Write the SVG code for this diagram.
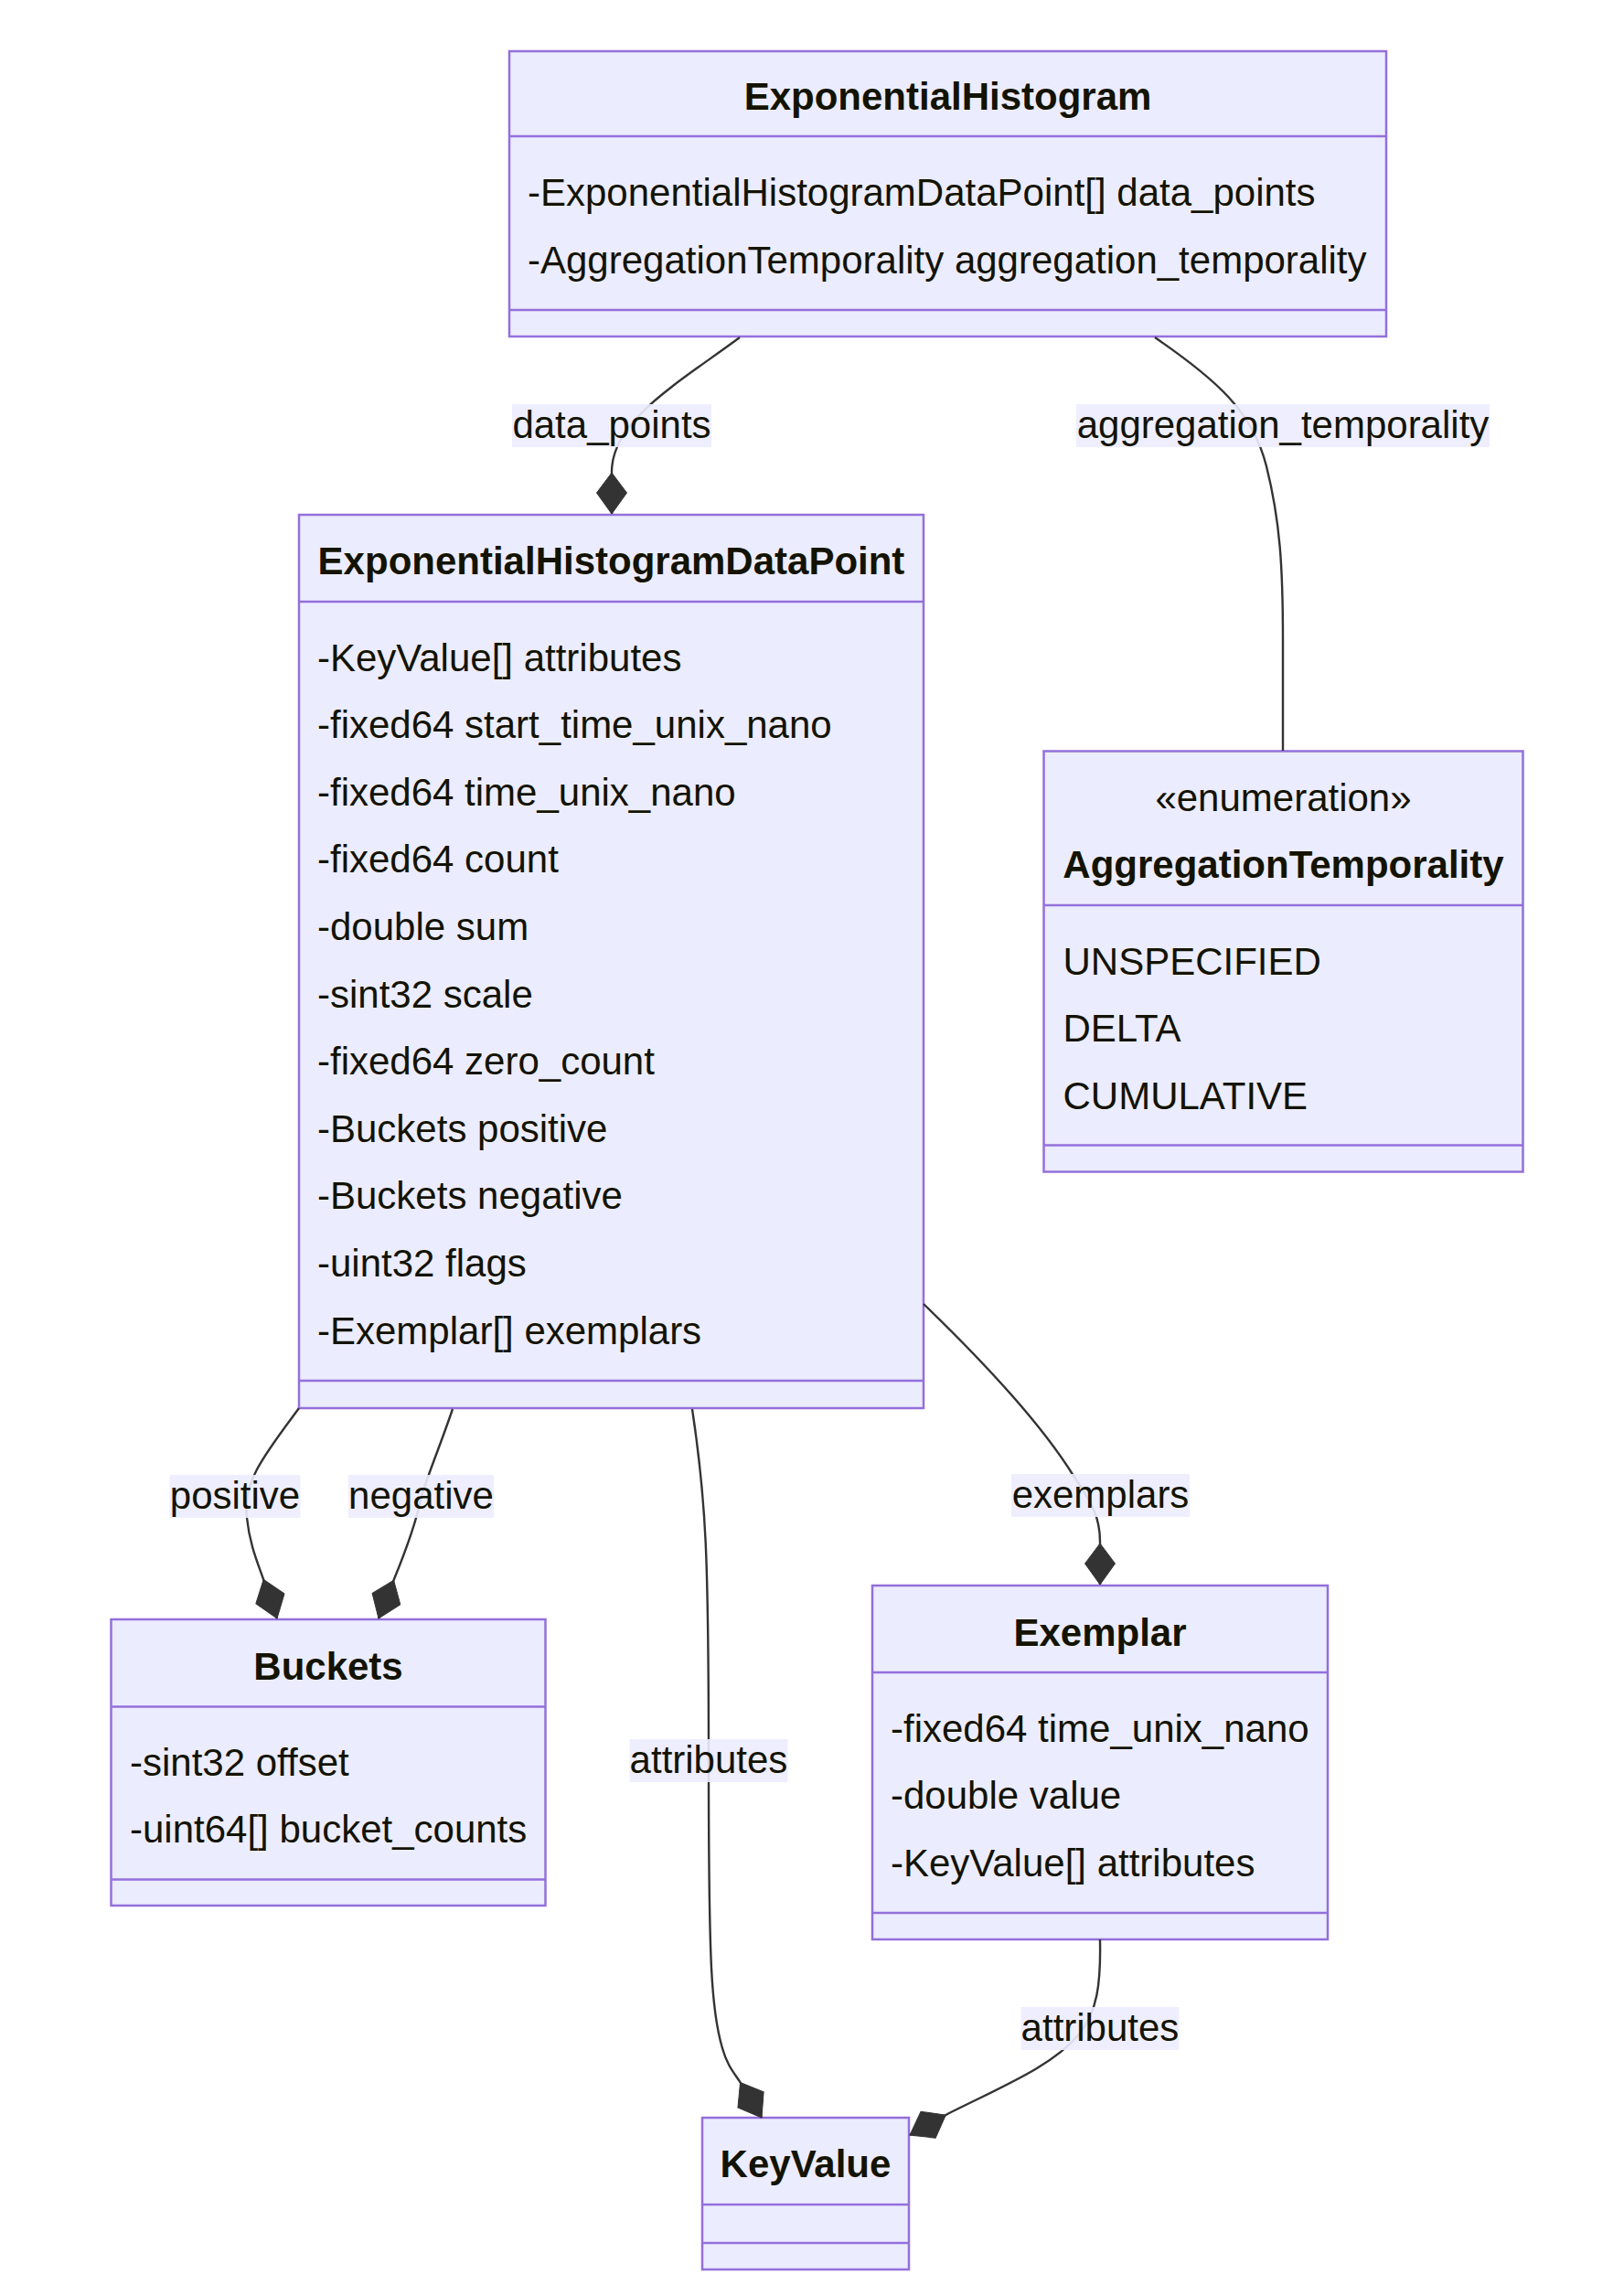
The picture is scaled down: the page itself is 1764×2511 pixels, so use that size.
<svg xmlns="http://www.w3.org/2000/svg" width="1764" height="2511" viewBox="0 0 1764 2511">
<style>
.box{fill:#ECECFF;stroke:#9370DB;stroke-width:2.5}
.div{stroke:#9370DB;stroke-width:2.5;fill:none}
.t{font-family:"Liberation Sans",Arial,sans-serif;font-size:42px;fill:#131300}
.title{font-weight:bold;text-anchor:middle}
.mid{text-anchor:middle}
.edge{fill:none;stroke:#333333;stroke-width:2.4}
.lbg{fill:#ECECFF;opacity:0.9}
</style>
<defs>
<marker id="comp" markerUnits="userSpaceOnUse" markerWidth="48" markerHeight="36" refX="46" refY="17" orient="auto" viewBox="0 0 48 36">
<path d="M1,17 L23,0.5 L46,17 L23,33.5 Z" fill="#333333" stroke="#333333" stroke-width="1"/>
</marker>
</defs>
<rect width="1764" height="2511" fill="#ffffff"/>

<g id="ExponentialHistogram">
<rect class="box" x="557" y="56" width="959" height="312"/>
<line class="div" x1="557" y1="149" x2="1516" y2="149"/>
<line class="div" x1="557" y1="339" x2="1516" y2="339"/>
<text class="t title" x="1036.5" y="120">ExponentialHistogram</text>
<text class="t" x="577" y="225">-ExponentialHistogramDataPoint[] data_points</text>
<text class="t" x="577" y="299">-AggregationTemporality aggregation_temporality</text>
</g>

<g id="ExponentialHistogramDataPoint">
<rect class="box" x="327" y="563" width="683" height="977"/>
<line class="div" x1="327" y1="658" x2="1010" y2="658"/>
<line class="div" x1="327" y1="1510" x2="1010" y2="1510"/>
<text class="t title" x="668.5" y="628">ExponentialHistogramDataPoint</text>
<text class="t" x="347" y="733.5">-KeyValue[] attributes</text>
<text class="t" x="347" y="807.1">-fixed64 start_time_unix_nano</text>
<text class="t" x="347" y="880.7">-fixed64 time_unix_nano</text>
<text class="t" x="347" y="954.3">-fixed64 count</text>
<text class="t" x="347" y="1027.9">-double sum</text>
<text class="t" x="347" y="1101.5">-sint32 scale</text>
<text class="t" x="347" y="1175.1">-fixed64 zero_count</text>
<text class="t" x="347" y="1248.7">-Buckets positive</text>
<text class="t" x="347" y="1322.3">-Buckets negative</text>
<text class="t" x="347" y="1395.9">-uint32 flags</text>
<text class="t" x="347" y="1469.5">-Exemplar[] exemplars</text>
</g>

<g id="AggregationTemporality">
<rect class="box" x="1141.5" y="821.5" width="524" height="460"/>
<line class="div" x1="1141.5" y1="990" x2="1665.5" y2="990"/>
<line class="div" x1="1141.5" y1="1252.5" x2="1665.5" y2="1252.5"/>
<text class="t mid" x="1403.5" y="887">«enumeration»</text>
<text class="t title" x="1403.5" y="959.5">AggregationTemporality</text>
<text class="t" x="1162.5" y="1065.5">UNSPECIFIED</text>
<text class="t" x="1162.5" y="1139">DELTA</text>
<text class="t" x="1162.5" y="1212.5">CUMULATIVE</text>
</g>

<g id="Buckets">
<rect class="box" x="121.5" y="1771" width="475" height="313"/>
<line class="div" x1="121.5" y1="1866.5" x2="596.5" y2="1866.5"/>
<line class="div" x1="121.5" y1="2055.5" x2="596.5" y2="2055.5"/>
<text class="t title" x="359" y="1837">Buckets</text>
<text class="t" x="142" y="1941.5">-sint32 offset</text>
<text class="t" x="142" y="2015">-uint64[] bucket_counts</text>
</g>

<g id="Exemplar">
<rect class="box" x="954" y="1734" width="498" height="387"/>
<line class="div" x1="954" y1="1829" x2="1452" y2="1829"/>
<line class="div" x1="954" y1="2092" x2="1452" y2="2092"/>
<text class="t title" x="1203" y="1800">Exemplar</text>
<text class="t" x="974" y="1904.5">-fixed64 time_unix_nano</text>
<text class="t" x="974" y="1978">-double value</text>
<text class="t" x="974" y="2051.5">-KeyValue[] attributes</text>
</g>

<g id="KeyValue">
<rect class="box" x="768" y="2316" width="226" height="166"/>
<line class="div" x1="768" y1="2411" x2="994" y2="2411"/>
<line class="div" x1="768" y1="2453" x2="994" y2="2453"/>
<text class="t title" x="881" y="2381">KeyValue</text>
</g>

<g id="connectors">
<path class="edge" marker-end="url(#comp)" d="M 809,369 C 740,420 669,460 669,516 L 669,562"/>
<path class="edge" d="M 1263,369 C 1330,415 1370,450 1385,510 C 1400,570 1403,620 1403,700 L 1403,821"/>
<path class="edge" marker-end="url(#comp)" d="M 327,1540 C 290,1590 265,1620 270,1660 C 273,1690 283,1712 288,1727 L 303,1770"/>
<path class="edge" marker-end="url(#comp)" d="M 495,1541 C 480,1585 465,1620 460,1640 C 455,1665 440,1705 431,1727 L 414,1770"/>
<path class="edge" marker-end="url(#comp)" d="M 757,1541 C 772,1640 775,1700 775,1926 C 775,2150 778,2200 790,2240 C 795,2258 802,2266 808,2275 L 833,2316"/>
<path class="edge" marker-end="url(#comp)" d="M 1010,1426 C 1095,1508 1148,1572 1174,1614 C 1195,1645 1203,1660 1203,1686 L 1203,1733"/>
<path class="edge" marker-end="url(#comp)" d="M 1203,2121 C 1204,2170 1200,2200 1180,2225 C 1150,2260 1100,2280 1038,2311 L 995,2335"/>
<g id="edge-labels">
<rect class="lbg" x="560" y="442" width="218" height="47"/>
<text class="t mid" x="669" y="479">data_points</text>
<rect class="lbg" x="1177" y="442" width="452" height="47"/>
<text class="t mid" x="1403" y="479">aggregation_temporality</text>
<rect class="lbg" x="185.5" y="1613" width="143" height="47"/>
<text class="t mid" x="257" y="1650">positive</text>
<rect class="lbg" x="381" y="1613" width="159" height="47"/>
<text class="t mid" x="460.5" y="1650">negative</text>
<rect class="lbg" x="688.5" y="1902" width="173" height="47"/>
<text class="t mid" x="775" y="1939">attributes</text>
<rect class="lbg" x="1106" y="1612" width="195" height="47"/>
<text class="t mid" x="1203.5" y="1649">exemplars</text>
<rect class="lbg" x="1116.5" y="2195" width="173" height="47"/>
<text class="t mid" x="1203" y="2232">attributes</text>
</g>
</g>
</svg>
